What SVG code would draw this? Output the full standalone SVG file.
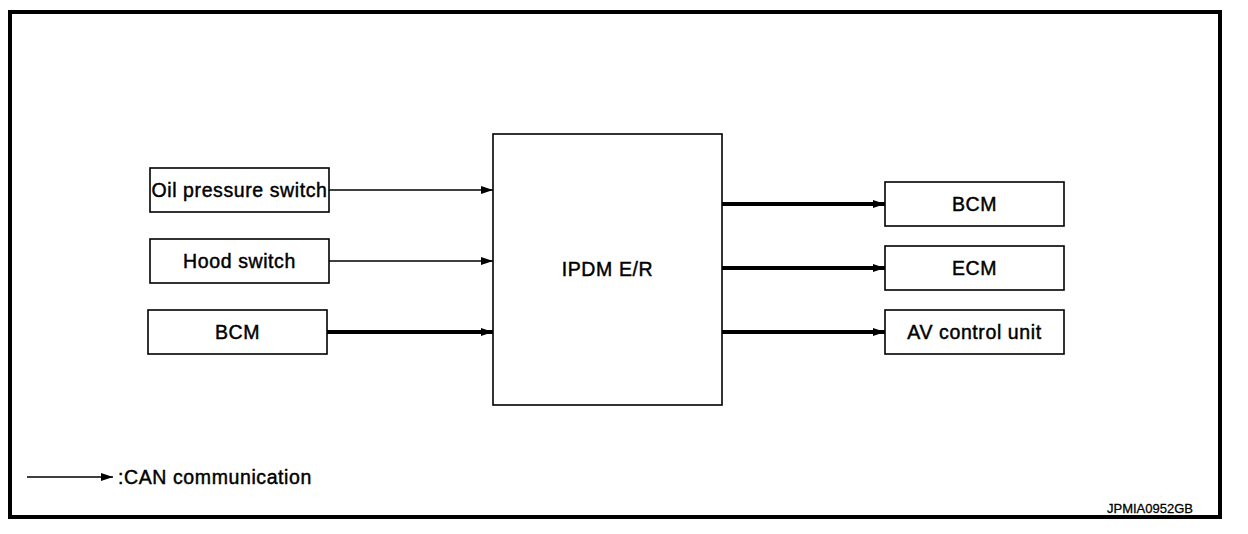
<svg xmlns="http://www.w3.org/2000/svg" width="1248" height="534" viewBox="0 0 1248 534">
<style>
.box{fill:#fff;stroke:#000;stroke-width:1.6}
.t{font-family:"Liberation Sans",Arial,sans-serif;font-size:19.5px;fill:#000;stroke:#000;stroke-width:0.45;letter-spacing:0.6px;text-anchor:middle}
.thin{stroke:#000;stroke-width:1.6;fill:none}
.thick{stroke:#000;stroke-width:4;fill:none}
</style>
<defs>
<marker id="ah" viewBox="0 0 12 8" refX="12" refY="4" markerWidth="12" markerHeight="8" markerUnits="userSpaceOnUse" orient="auto">
<path d="M0,0 L12,4 L0,8 Z" fill="#000"/>
</marker>
</defs>
<rect x="0" y="0" width="1248" height="534" fill="#fff"/>
<rect x="10" y="12" width="1210" height="505" fill="none" stroke="#000" stroke-width="4"/>
<g id="oil"><rect class="box" x="150" y="168" width="179" height="44"/><text class="t" x="239.5" y="197">Oil pressure switch</text></g>
<g id="hood"><rect class="box" x="150" y="239" width="179" height="44"/><text class="t" x="239.5" y="268">Hood switch</text></g>
<g id="bcm-in"><rect class="box" x="148" y="310" width="179" height="44"/><text class="t" x="237.5" y="339">BCM</text></g>
<g id="ipdm"><rect class="box" x="493" y="134" width="229" height="271"/><text class="t" x="607.5" y="276">IPDM E/R</text></g>
<g id="bcm-out"><rect class="box" x="885" y="182" width="179" height="44"/><text class="t" x="974.5" y="211">BCM</text></g>
<g id="ecm"><rect class="box" x="885" y="246" width="179" height="44"/><text class="t" x="974.5" y="275">ECM</text></g>
<g id="av"><rect class="box" x="885" y="310" width="179" height="44"/><text class="t" x="974.5" y="339">AV control unit</text></g>
<g id="connectors">
<line class="thin" x1="329" y1="190" x2="493" y2="190" marker-end="url(#ah)"/>
<line class="thin" x1="329" y1="261" x2="493" y2="261" marker-end="url(#ah)"/>
<line class="thick" x1="327" y1="332" x2="493" y2="332" marker-end="url(#ah)"/>
<line class="thick" x1="722" y1="204" x2="885" y2="204" marker-end="url(#ah)"/>
<line class="thick" x1="722" y1="268" x2="885" y2="268" marker-end="url(#ah)"/>
<line class="thick" x1="722" y1="332" x2="885" y2="332" marker-end="url(#ah)"/>
</g>
<g id="legend">
<line class="thin" x1="27" y1="477" x2="113" y2="477" stroke-width="2" marker-end="url(#ah)"/>
<text class="t" x="118" y="484" style="text-anchor:start">:CAN communication</text>
</g>
<text x="1193" y="513" style="font-family:'Liberation Sans',Arial,sans-serif;font-size:13px;fill:#000;stroke:#000;stroke-width:0.3;text-anchor:end">JPMIA0952GB</text>
</svg>
